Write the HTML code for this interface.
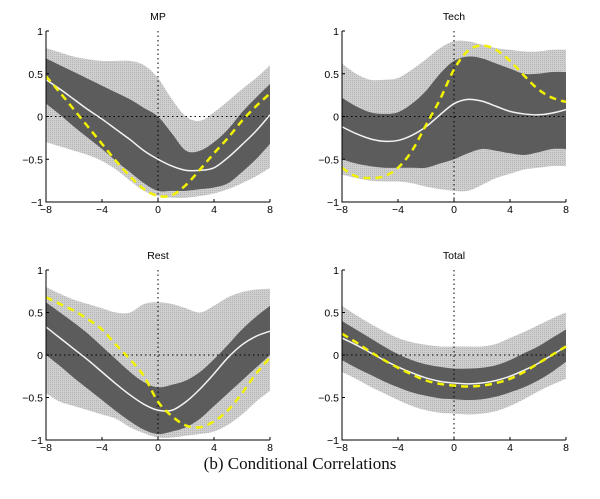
<!DOCTYPE html>
<html><head><meta charset="utf-8"><style>
body{margin:0;background:#fff;width:600px;height:499px;overflow:hidden}
svg{display:block}
</style></head><body>
<svg id="chart" width="600" height="499">
<defs><pattern id="dots" width="2" height="2" patternUnits="userSpaceOnUse"><rect width="2" height="2" fill="#cfcfcf"/><rect width="1" height="1" fill="#b4b4b4"/></pattern></defs>
<text x="300" y="469" text-anchor="middle" font-family="Liberation Serif, serif" font-size="17" fill="#111">(b) Conditional Correlations</text>
</svg>
<script>
const lags=[-8,-7,-6,-5,-4,-3,-2,-1,0,1,2,3,4,5,6,7,8];
const xTicks=[-8,-4,0,4,8];
const yTicks=[-1,-0.5,0,0.5,1];
const yTickLabels=["\u22121","\u22120.5","0","0.5","1"];
const titles=["MP","Tech","Rest","Total"];
const outerHi=[
[0.8,0.75,0.7,0.67,0.65,0.65,0.65,0.6,0.45,0.2,0.0,-0.05,0.05,0.18,0.32,0.45,0.6],
[0.62,0.5,0.43,0.43,0.45,0.55,0.67,0.8,0.88,0.88,0.84,0.8,0.78,0.76,0.76,0.78,0.78],
[0.8,0.72,0.65,0.6,0.55,0.5,0.5,0.6,0.62,0.6,0.55,0.5,0.58,0.68,0.74,0.77,0.78],
[0.58,0.47,0.37,0.28,0.2,0.15,0.12,0.1,0.1,0.1,0.1,0.13,0.2,0.27,0.35,0.43,0.5]];
const innerHi=[
[0.68,0.6,0.52,0.44,0.36,0.28,0.2,0.1,0.0,-0.2,-0.4,-0.4,-0.3,-0.15,0.05,0.22,0.38],
[0.22,0.12,0.05,0.03,0.05,0.15,0.3,0.5,0.65,0.7,0.68,0.62,0.56,0.5,0.5,0.52,0.52],
[0.62,0.5,0.38,0.25,0.1,-0.05,-0.2,-0.32,-0.38,-0.35,-0.3,-0.2,-0.05,0.12,0.3,0.45,0.58],
[0.4,0.3,0.2,0.1,0.01,-0.06,-0.11,-0.14,-0.16,-0.16,-0.15,-0.12,-0.06,0.02,0.1,0.2,0.3]];
const median=[
[0.43,0.32,0.2,0.08,-0.03,-0.15,-0.27,-0.4,-0.5,-0.58,-0.63,-0.63,-0.6,-0.48,-0.33,-0.17,0.02],
[-0.12,-0.2,-0.26,-0.29,-0.28,-0.22,-0.12,0.02,0.15,0.2,0.18,0.12,0.06,0.03,0.02,0.04,0.08],
[0.33,0.2,0.07,-0.06,-0.2,-0.34,-0.47,-0.58,-0.65,-0.65,-0.55,-0.4,-0.22,-0.03,0.12,0.22,0.28],
[0.2,0.12,0.03,-0.06,-0.14,-0.21,-0.27,-0.31,-0.33,-0.34,-0.33,-0.3,-0.25,-0.18,-0.1,0,0.1]];
const innerLo=[
[0.15,0.02,-0.12,-0.25,-0.38,-0.52,-0.65,-0.78,-0.87,-0.87,-0.87,-0.85,-0.83,-0.78,-0.65,-0.5,-0.32],
[-0.5,-0.55,-0.58,-0.6,-0.6,-0.6,-0.6,-0.55,-0.5,-0.43,-0.38,-0.4,-0.43,-0.45,-0.42,-0.38,-0.38],
[0,-0.13,-0.27,-0.4,-0.53,-0.66,-0.78,-0.88,-0.93,-0.9,-0.85,-0.75,-0.6,-0.45,-0.3,-0.15,0],
[-0.06,-0.15,-0.23,-0.31,-0.38,-0.44,-0.48,-0.51,-0.52,-0.53,-0.52,-0.49,-0.44,-0.38,-0.3,-0.2,-0.08]];
const outerLo=[
[-0.3,-0.35,-0.4,-0.45,-0.52,-0.62,-0.75,-0.87,-0.93,-0.95,-0.95,-0.93,-0.9,-0.85,-0.78,-0.7,-0.6],
[-0.68,-0.72,-0.75,-0.76,-0.76,-0.78,-0.82,-0.85,-0.87,-0.87,-0.8,-0.72,-0.67,-0.62,-0.6,-0.58,-0.58],
[-0.45,-0.55,-0.6,-0.65,-0.7,-0.75,-0.85,-0.92,-0.97,-0.97,-0.95,-0.93,-0.9,-0.82,-0.7,-0.55,-0.42],
[-0.2,-0.28,-0.37,-0.45,-0.53,-0.6,-0.65,-0.68,-0.69,-0.7,-0.69,-0.66,-0.6,-0.52,-0.43,-0.35,-0.28]];
const yellow=[
[0.47,0.28,0.08,-0.12,-0.32,-0.52,-0.7,-0.85,-0.93,-0.92,-0.8,-0.62,-0.43,-0.25,-0.05,0.12,0.27],
[-0.6,-0.7,-0.72,-0.7,-0.6,-0.4,-0.1,0.2,0.55,0.77,0.83,0.78,0.65,0.48,0.32,0.22,0.17],
[0.68,0.6,0.52,0.42,0.3,0.12,-0.05,-0.25,-0.55,-0.72,-0.83,-0.85,-0.78,-0.65,-0.45,-0.22,-0.03],
[0.25,0.15,0.04,-0.06,-0.15,-0.23,-0.3,-0.34,-0.36,-0.37,-0.36,-0.33,-0.28,-0.2,-0.1,0,0.1]];

const NS="http://www.w3.org/2000/svg";
const svg=document.getElementById('chart');
const panels=[{x0:46,x1:270,y0:31,y1:202},{x0:342,x1:566,y0:31,y1:202},{x0:46,x1:270,y0:270,y1:440},{x0:342,x1:566,y0:270,y1:440}];
function mk(tag,attrs,parent){const e=document.createElementNS(NS,tag);for(const k in attrs)e.setAttribute(k,attrs[k]);parent.appendChild(e);return e;}
function smooth(pts){let d="M"+pts[0][0]+","+pts[0][1];for(let i=0;i<pts.length-1;i++){const p0=pts[Math.max(0,i-1)],p1=pts[i],p2=pts[i+1],p3=pts[Math.min(pts.length-1,i+2)];
d+=" C"+(p1[0]+(p2[0]-p0[0])/6)+","+(p1[1]+(p2[1]-p0[1])/6)+" "+(p2[0]-(p3[0]-p1[0])/6)+","+(p2[1]-(p3[1]-p1[1])/6)+" "+p2[0]+","+p2[1];}return d;}
function smoothCont(pts){return smooth(pts).replace(/^M[^ ]+/,"");}
panels.forEach((P,k)=>{
  const xs=v=>P.x0+(v+8)/16*(P.x1-P.x0);
  const ys=v=>P.y1-(v+1)/2*(P.y1-P.y0);
  const g=mk('g',{},svg);
  
  
  const band=(hi,lo,fill,name)=>{
    const up=lags.map((l,i)=>[xs(l),ys(hi[i])]);
    const dn=lags.map((l,i)=>[xs(l),ys(lo[i])]).reverse();
    const p=mk('path',{d:smooth(up)+" L"+dn[0][0]+","+dn[0][1]+smoothCont(dn)+" Z",fill:fill},g);
    
    
  };
  band(outerHi[k],outerLo[k],'url(#dots)','outer-band');
  band(innerHi[k],innerLo[k],'#5c5c5c','inner-band');
  const z1=mk('line',{x1:P.x0,x2:P.x1,y1:ys(0),y2:ys(0),stroke:'#000','stroke-width':1,'stroke-dasharray':'1.5 3'},g);
  
  
  const z2=mk('line',{x1:xs(0),x2:xs(0),y1:P.y0,y2:P.y1,stroke:'#000','stroke-width':1,'stroke-dasharray':'1.5 3'},g);
  
  
  const m=mk('path',{d:smooth(lags.map((l,i)=>[xs(l),ys(median[k][i])])),fill:'none',stroke:'#f4f4f4','stroke-width':1.5},g);
  
  
  const yl=mk('path',{d:smooth(lags.map((l,i)=>[xs(l),ys(yellow[k][i])])),fill:'none',stroke:'#f2f200','stroke-width':2.5,'stroke-dasharray':'7 5'},g);
  
  
  const ax=mk('path',{d:`M${P.x0},${P.y0} L${P.x0},${P.y1} L${P.x1},${P.y1}`,fill:'none',stroke:'#000','stroke-width':1},g);
  
  
  xTicks.forEach(t=>{
    mk('line',{x1:xs(t),x2:xs(t),y1:P.y1,y2:P.y1-3,stroke:'#000'},g);
    const tx=mk('text',{x:xs(t),y:P.y1+11,'text-anchor':'middle','font-family':'Liberation Sans, sans-serif','font-size':10.5,fill:'#000'},g);
    tx.textContent=(t<0?'\u2212'+(-t):t);
    
    
  });
  yTicks.forEach((t,i)=>{
    mk('line',{x1:P.x0,x2:P.x0+3,y1:ys(t),y2:ys(t),stroke:'#000'},g);
    const tx=mk('text',{x:P.x0-3,y:ys(t)+4,'text-anchor':'end','font-family':'Liberation Sans, sans-serif','font-size':10.5,fill:'#000'},g);
    tx.textContent=yTickLabels[i];
    
    
  });
  const tt=mk('text',{x:(P.x0+P.x1)/2,y:P.y0-11,'text-anchor':'middle','font-family':'Liberation Sans, sans-serif','font-size':10.5,fill:'#000'},g);
  tt.textContent=titles[k];
  
  
});
</script>
</body></html>
